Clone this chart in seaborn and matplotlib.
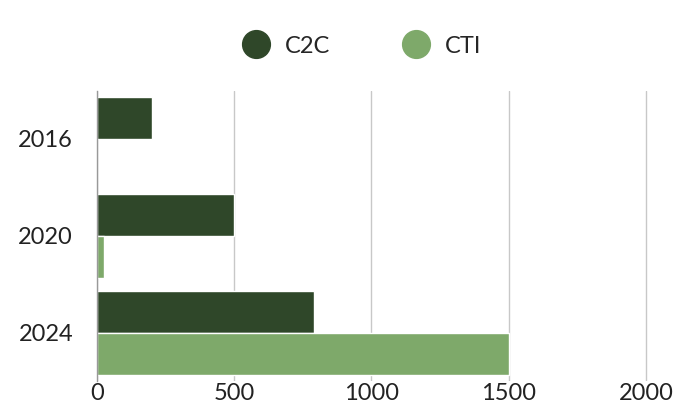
import numpy as np
import pandas as pd
import matplotlib
matplotlib.use('Agg')
import matplotlib.pyplot as plt
from matplotlib.lines import Line2D
import seaborn as sns

# values
years = ['2016', '2020', '2024']
c2c = [200, 500, 790]
cti = [0, 25, 1500]
series = ['C2C', 'CTI']
colors = ['#2f4729', '#7ea96a']

df = pd.DataFrame({
    'year': years * 2,
    'value': c2c + cti,
    'series': ['C2C'] * len(years) + ['CTI'] * len(years),
})

sns.set_style('white')
plt.rcParams['font.family'] = ['Lato', 'DejaVu Sans']

fig = plt.figure(figsize=(6.81, 4.19), dpi=100)
ax = fig.add_axes([0.142, 0.09, 0.81, 0.694])

sns.barplot(data=df, y='year', x='value', hue='series', order=years,
            hue_order=series, palette=colors, orient='h', width=0.87,
            saturation=1, ax=ax, legend=False)

ax.set_xlim(0, 2008)
ax.set_xticks([0, 500, 1000, 1500, 2000])
ax.xaxis.grid(True, color='#c8c8c8', linewidth=1)
ax.set_axisbelow(True)
for s in ['top', 'right', 'bottom']:
    ax.spines[s].set_visible(False)
ax.spines['left'].set_color('#999999')
ax.spines['left'].set_linewidth(1)
ax.set_xlabel('')
ax.set_ylabel('')
ax.tick_params(axis='both', length=0, labelsize=17, colors='#222222')
ax.tick_params(axis='x', pad=1)
ax.tick_params(axis='y', pad=17)

handles = [Line2D([], [], marker='o', linestyle='', markersize=20,
                  markerfacecolor=c, markeredgecolor=c) for c in colors]
fig.legend(handles, series, loc='center', bbox_to_anchor=(0.524, 0.89),
           ncol=2, frameon=False, fontsize=17, handletextpad=0.25,
           columnspacing=2.6)

fig.savefig('out.png', dpi=100)
